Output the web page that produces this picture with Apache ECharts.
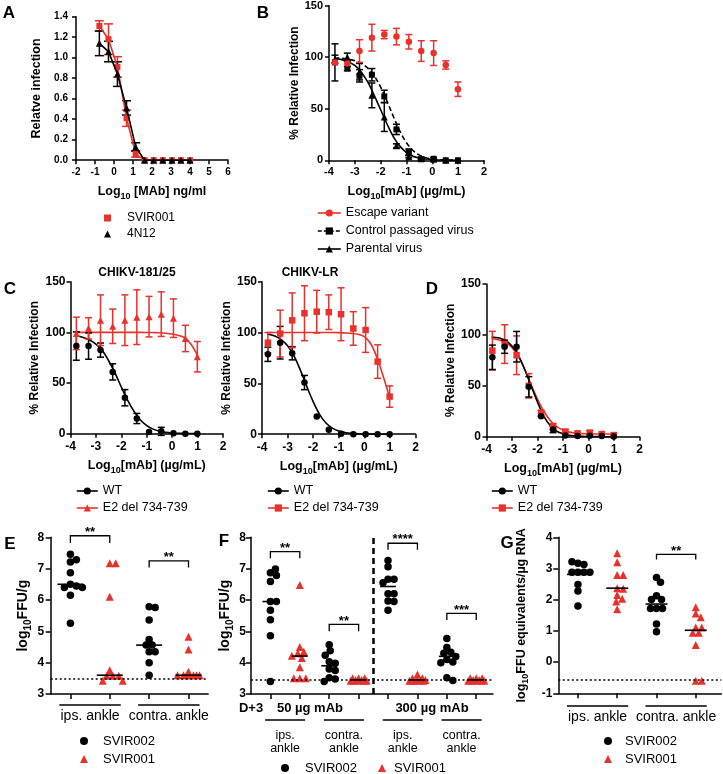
<!DOCTYPE html>
<html><head><meta charset="utf-8">
<script src="https://cdn.jsdelivr.net/npm/echarts@6/dist/echarts.min.js"></script>
<style>html,body{margin:0;padding:0;background:#fff}#c{width:723px;height:774px}</style>
</head><body><div id="c"></div><script>
// ================= DATA =================
// Panel A
const aLogDose = [-0.77,-0.29,0.18,0.66,1.14,1.61,2.09,2.57,3.05,3.52,4.00];
const aSVIR001 = [1.31,1.18,0.91,0.41,0.06,0,0,0,0,0,0];
const aSVIR001Sd = [0.05,0.15,0.10,0.08,0.03,0,0,0,0,0,0];
const a4N12 = [1.14,1.06,0.84,0.51,0.13,0,0,0,0,0,0];
const a4N12Sd = [0.12,0.10,0.12,0.07,0.04,0,0,0,0,0,0];
// Panels B, C, D: measured dose levels and fitted-curve sample points
const doseLog = [-3.77,-3.29,-2.82,-2.34,-1.86,-1.39,-0.91,-0.43,0.05,0.52,0.99];
const fitLog = [-3.8,-3.5,-3.25,-3,-2.75,-2.5,-2.25,-2,-1.75,-1.5,-1.25,-1,-0.75,-0.5,-0.25,0,0.25,0.5,0.75,1];
// Panel B
const bEscape = [95,94,106,119,122,120,115,106,104,92.5,69];
const bEscapeSd = [0,0,11,13,4,8,7,10,12,4,7];
const bControl = [95,89,82,83,62,30,8,1,1.5,0,0];
const bControlSd = [18,2,6,6,6,5,3,1,1,0,0];
const bParental = [98,100,86,63,42,14,3.5,2,1,0,0];
const bParentalSd = [4,4,8,12,14,2,1,1,0,0,0];
const bParentalFit = [98.8,97.7,95.5,92,85.5,76,63,49,35,22.5,13.5,7.5,4,2.2,1.2,0.6,0.3,0.15,0.1,0.05];
const bControlFit = [99.5,99,98,96.5,94,89.5,82,71,57,42,28,17,9.5,5,2.5,1.2,0.6,0.3,0.15,0.1];
// Panel C (CHIKV-181/25)
const c1WT = [86.5,86.5,82.5,61,35.5,15,1.6,2.3,0.5,0,0];
const c1WTSd = [14,13,7,8,8,5,0,4,0,0,0];
const c1E2 = [99,104,112,106,112,115,115.5,118,114,94,76];
const c1E2Sd = [16,10.5,25,17,25,27,20,22,19,13,15];
const c1WTFit = [97,95,92.5,88.5,82,72,60,46,33,22,13.5,8,4.5,2.5,1.3,0.7,0.4,0.2,0.1,0.05];
const c1E2Fit = [100,100,100,100,100,100,100,100,100,100,100,99.9,99.8,99.6,99.2,98.4,97,94.5,88,77];
// Panel C (CHIKV-LR)
const c2WT = [78.6,90,79.6,50.8,17.4,4.3,0.5,0,0,0,0];
const c2WTSd = [7,16,6.5,7,0,0,0,0,0,0,0];
const c2E2 = [90,99,112,119,120.5,120,118,104,102.5,71.4,37];
const c2E2Sd = [10,23,27,27,21,17,26,16.5,22,16.5,10.5];
const c2WTFit = [98.5,96.5,93,87,77,63,47,32,19.5,11,6,3.2,1.7,0.9,0.5,0.2,0.1,0,0,0];
const c2E2Fit = [100,100,100,100,100,100,100,100,100,100,100,99.9,99.6,99.2,98.3,96,89,75,56,35];
// Panel D
const dWT = [78,88.4,88.4,49,20,7,1.3,0.7,1,0.6,0.3];
const dWTSd = [12,6.5,15,10,0,3,0,0,0,0,0];
const dE2 = [84.5,91,80,50,23,10,5,3.3,4,2.6,1.6];
const dE2Sd = [19,19,19,12,3,3,2,0,2,0,0];
const dWTFit = [98,97,94.5,89,80,66,50,34,20,11,5.5,2.8,1.4,0.7,0.3,0.2,0.1,0,0,0];
const dE2Fit = [96.5,95,92.5,87.5,79,66,51,37,25,16,10,6.5,4.5,3.5,3,2.8,2.7,2.6,2.6,2.6];
// Panel E (log10 FFU/g)
const eIpsSVIR002 = [7.46,7.21,7.28,6.87,6.5,6.45,6.4,6.4,6.15,5.26];
const eIpsSVIR001 = [7.17,7.17,6.1,3.76,3.58,3.58,3.58,3.42,3.42];
const eContraSVIR002 = [5.78,5.76,5.36,4.74,4.56,4.56,4.35,4.35,4.0,3.6];
const eContraSVIR001 = [4.83,4.42,3.71,3.6,3.6,3.6,3.6,3.6,3.6,3.6];
const eMedians = [6.5,3.6,4.56,3.6];
const eLOD = 3.5;
const eGroupLabels = ['ips. ankle','contra. ankle'];
const eStars = ['**','**'];
const eBrackets = [[1,2,8.05,7.82],[3,4,7.25,7.04]];
// Panel F
const f50IpsSVIR002 = [6.87,6.99,6.78,6.59,5.95,5.95,5.67,5.37,4.86,3.4];
const f50IpsSVIR001 = [6.48,4.5,4.35,4.3,4.22,4.15,3.85,3.5,3.5,3.5];
const f50ContraSVIR002 = [4.57,4.38,4.24,4.03,3.98,3.8,3.75,3.52,3.48,3.4];
const f50ContraSVIR001 = [3.5,3.5,3.5,3.45,3.45,3.42,3.42,3.42,3.42,3.42];
const f300IpsSVIR002 = [7.26,7.06,6.66,6.66,6.55,6.2,6.2,5.97,5.95,5.67];
const f300IpsSVIR001 = [3.62,3.5,3.5,3.45,3.45,3.42,3.42,3.42,3.42,3.42];
const f300ContraSVIR002 = [4.77,4.48,4.33,4.3,4.2,4.1,4.02,4.0,3.52,3.43];
const f300ContraSVIR001 = [3.5,3.5,3.5,3.45,3.45,3.42,3.42,3.42,3.42,3.42];
const fMedians = [5.95,4.21,3.9,3.45,6.43,3.45,4.2,3.45];
const fLOD = 3.45;
const fGroupLabels = ['ips.\nankle','contra.\nankle','ips.\nankle','contra.\nankle'];
const fDoseLabels = ['D+3','50 µg mAb','300 µg mAb'];
const fStars = ['**','**','****','***'];
const fBrackets = [[1,2,7.54,7.33],[3,4,5.22,5.0],[5,6,7.81,7.6],[7,8,5.57,5.36]];
// Panel G (log10 FFU equivalents / µg RNA)
const gIpsSVIR002 = [3.17,3.13,3.22,2.88,2.88,2.88,2.88,2.49,2.28,1.80];
const gIpsSVIR001 = [3.49,3.2,2.79,2.79,2.37,2.35,2.15,2.03,1.94,1.69];
const gContraSVIR002 = [2.71,2.56,2.13,2.01,2.01,1.72,1.72,1.72,1.22,0.97];
const gContraSVIR001 = [1.76,1.56,1.44,1.11,1.11,0.94,0.94,0.55,-0.6,-0.6];
const gMedians = [2.81,2.37,1.86,1.02];
const gLOD = -0.58;
const gGroupLabels = ['ips. ankle','contra. ankle'];
const gStars = ['**'];
const gBrackets = [[3,4,3.45,3.29]];

// ================= STYLE / LAYOUT =================
const FONT = 'Arial, "Liberation Sans", Helvetica, sans-serif';
const RED = '#e8312a';
const BLK = '#000000';
const grids = [
  {left:76, top:16.7, width:152, height:143.5},      // A
  {left:329, top:5.7, width:155, height:154.6},      // B
  {left:70.5, top:281.7, width:152.5, height:152},   // C1
  {left:262, top:281.7, width:153.5, height:152.5},  // C2
  {left:486.5, top:284, width:153, height:152.7},    // D
  {left:50.7, top:537.3, width:157.5, height:156.7}, // E
  {left:251, top:537.3, width:242, height:156.7},    // F
  {left:558.3, top:537.3, width:163, height:156}     // G
];
const xr = [[-2,6],[-4,2],[-4,2],[-4,2],[-4,2],[0.5,4.5],[0.34,8.57],[0.5,4.65]];
const yr = [[0,1.4],[0,150],[0,150],[0,150],[0,150],[3,8],[3,8],[-1,4]];

function rich(fs) {
  return {
    b: {fontSize: fs, fontWeight: 'bold', fontFamily: FONT, color: BLK, lineHeight: fs + 6},
    s: {fontSize: Math.round(fs * 0.68), fontWeight: 'bold', fontFamily: FONT, color: BLK, lineHeight: Math.round(fs * 0.68), verticalAlign: 'bottom'}
  };
}
function axis(o) {
  const fs = o.fs;
  return {
    type: 'value', gridIndex: o.g, min: o.min, max: o.max, interval: o.interval,
    name: o.name, nameLocation: 'middle', nameGap: o.nameGap,
    nameTextStyle: {color: BLK, fontWeight: 'bold', fontSize: o.nfs, fontFamily: FONT, rich: rich(o.nfs)},
    axisLine: {show: true, onZero: false, lineStyle: {color: BLK, width: 1.5}},
    axisTick: Object.assign({show: true, length: o.tick || 4, lineStyle: {color: BLK, width: 1.5}}, o.tickExtra || {}),
    axisLabel: {show: o.labels !== false, color: BLK, fontWeight: 'bold', fontSize: fs, fontFamily: FONT, margin: o.margin, formatter: o.fmt},
    splitLine: {show: false}
  };
}
const xAxis = [
  axis({g:0, min:-2, max:6, interval:1, fs:10, margin:7, nfs:12.5, nameGap:22, name:'{b|Log}{s|10}{b| [MAb] ng/ml}'}),
  axis({g:1, min:-4, max:2, interval:1, fs:11, margin:6.5, nfs:12.5, nameGap:22, name:'{b|Log}{s|10}{b|[mAb] (µg/mL)}'}),
  axis({g:2, min:-4, max:2, interval:1, fs:12, margin:7, nfs:12.5, nameGap:23, name:'{b|Log}{s|10}{b|[mAb] (µg/mL)}'}),
  axis({g:3, min:-4, max:2, interval:1, fs:12, margin:7, nfs:12.5, nameGap:23, name:'{b|Log}{s|10}{b|[mAb] (µg/mL)}'}),
  axis({g:4, min:-4, max:2, interval:1, fs:12, margin:7, nfs:12.5, nameGap:23, name:'{b|Log}{s|10}{b|[mAb] (µg/mL)}'}),
  axis({g:5, min:0.5, max:4.5, interval:1, fs:12, margin:7, nfs:12, nameGap:20, labels:false, tick:5, tickExtra:{customValues:[1,2,3,4]}}),
  axis({g:6, min:0.34, max:8.57, interval:1, fs:12, margin:7, nfs:12, nameGap:20, labels:false, tick:5, tickExtra:{customValues:[1,2,3,4,5,6,7,8]}}),
  axis({g:7, min:0.5, max:4.65, interval:1, fs:12, margin:7, nfs:12, nameGap:20, labels:false, tick:5, tickExtra:{customValues:[1,2,3,4]}})
];
const yAxis = [
  axis({g:0, min:0, max:1.4, interval:0.2, fs:10, margin:8, nfs:12.5, nameGap:33, name:'Relatve infection', fmt: v => v.toFixed(1)}),
  axis({g:1, min:0, max:150, interval:50, fs:11, margin:6, nfs:12, nameGap:27, name:'% Relative Infection'}),
  axis({g:2, min:0, max:150, interval:50, fs:12, margin:5, nfs:12, nameGap:29.5, name:'% Relative Infection'}),
  axis({g:3, min:0, max:150, interval:50, fs:12, margin:5, nfs:12, nameGap:25, name:'% Relative Infection'}),
  axis({g:4, min:0, max:150, interval:50, fs:12, margin:5.5, nfs:12, nameGap:27.5, name:'% Relative Infection'}),
  axis({g:5, min:3, max:8, interval:1, fs:12, margin:6.5, nfs:14, nameGap:11, tick:5, name:'{b|log}{s|10}{b|FFU/g}'}),
  axis({g:6, min:3, max:8, interval:1, fs:12, margin:5, nfs:14, nameGap:10, tick:5, name:'{b|log}{s|10}{b|FFU/g}'}),
  axis({g:7, min:-1, max:4, interval:1, fs:12, margin:6, nfs:12.5, nameGap:28, tick:5, name:'{b|log}{s|10}{b|FFU equivalents/µg RNA}'})
];

// ================= SERIES HELPERS =================
const series = [];
const pairs = (xs, ys) => xs.map((x, i) => [x, ys[i]]);
function errBars(g, xs, ys, es, color, cap) {
  series.push({
    type: 'custom', xAxisIndex: g, yAxisIndex: g, z: 3, silent: true,
    data: xs.map((x, i) => [x, ys[i], es[i]]),
    renderItem(p, api) {
      const x = api.value(0), y = api.value(1), e = api.value(2);
      if (!e) return null;
      const t = api.coord([x, y + e]), b = api.coord([x, y - e]);
      const st = {stroke: color, lineWidth: 1.5};
      return {type: 'group', children: [
        {type: 'line', shape: {x1: t[0], y1: t[1], x2: b[0], y2: b[1]}, style: st},
        {type: 'line', shape: {x1: t[0] - cap, y1: t[1], x2: t[0] + cap, y2: t[1]}, style: st},
        {type: 'line', shape: {x1: b[0] - cap, y1: b[1], x2: b[0] + cap, y2: b[1]}, style: st}
      ]};
    }
  });
}
function fitCurve(g, ys, color, dashed) {
  series.push({
    type: 'line', xAxisIndex: g, yAxisIndex: g, z: 2, silent: true, smooth: 0.35,
    showSymbol: false, symbol: 'none', data: pairs(fitLog, ys),
    lineStyle: {color: color, width: 1.6, type: dashed ? [5, 3] : 'solid'}
  });
}
function points(g, name, xs, ys, color, symbol, size, dashed) {
  series.push({
    type: 'line', name: name, xAxisIndex: g, yAxisIndex: g, z: 4,
    data: pairs(xs, ys), symbol: symbol, symbolSize: size, showSymbol: true,
    itemStyle: {color: color, opacity: 1}, lineStyle: {color: color, opacity: 0, width: 1.5, type: dashed ? [4, 2] : 'solid'}
  });
}
function swarm(vals, center, pxX, pxY, D, maxOff) {
  const placed = [], out = [];
  vals.forEach(v => {
    let best = 0, bestD = -1;
    for (let k = 0; k <= maxOff * 2; k++) {
      const c = (k % 2 ? 1 : -1) * Math.ceil(k / 2);
      let md = Infinity;
      placed.forEach(p => { const d = Math.hypot(p[0] - c, (p[1] - v) * pxY); if (d < md) md = d; });
      if (md >= D) { best = c; bestD = md; break; }
      if (md > bestD) { bestD = md; best = c; }
    }
    placed.push([best, v]);
    out.push([center + best / pxX, v]);
  });
  return out;
}
function pxPer(g) {
  return [grids[g].width / (xr[g][1] - xr[g][0]), grids[g].height / (yr[g][1] - yr[g][0])];
}
function dotPlot(g, name, groups, cats, color, symbol, size, maxOff, lod, extraMark) {
  const [px, py] = pxPer(g);
  let data = [];
  groups.forEach((vals, i) => { data = data.concat(swarm(vals, cats[i], px, py, 6, maxOff)); });
  const s = {
    type: 'scatter', name: name, xAxisIndex: g, yAxisIndex: g, z: 4, data: data,
    symbol: symbol, symbolSize: size, itemStyle: {color: color, opacity: 1}
  };
  if (lod !== undefined) {
    const md = [{yAxis: lod, lineStyle: {type: [2, 2.5], width: 1.5, color: BLK}}];
    if (extraMark) md.push(extraMark);
    s.markLine = {silent: true, symbol: 'none', label: {show: false}, animation: false, data: md, lineStyle: {color: BLK}};
  }
  series.push(s);
}
function medians(g, meds, hw) {
  series.push({
    type: 'custom', xAxisIndex: g, yAxisIndex: g, z: 6, silent: true,
    data: meds.map((m, i) => [i + 1, m]),
    renderItem(p, api) {
      const a = api.coord([api.value(0) - hw, api.value(1)]), b = api.coord([api.value(0) + hw, api.value(1)]);
      return {type: 'line', shape: {x1: a[0], y1: a[1], x2: b[0], y2: b[1]}, style: {stroke: BLK, lineWidth: 1.6}};
    }
  });
}
function brackets(g, list, stars) {
  series.push({
    type: 'custom', xAxisIndex: g, yAxisIndex: g, z: 6, silent: true, data: list,
    renderItem(p, api) {
      const x1 = api.value(0), x2 = api.value(1), yt = api.value(2), yl = api.value(3);
      const a = api.coord([x1, yl]), b = api.coord([x1, yt]), c = api.coord([x2, yt]), d = api.coord([x2, yl]);
      return {type: 'group', children: [
        {type: 'polyline', shape: {points: [a, b, c, d]}, style: {stroke: BLK, lineWidth: 1.3, fill: null}},
        {type: 'text', x: (b[0] + c[0]) / 2, y: b[1] + 3, style: {text: stars[p.dataIndex], fontSize: 13, fontWeight: 'bold', fill: BLK, align: 'center', verticalAlign: 'bottom', fontFamily: FONT}}
      ]};
    }
  });
}
function groupLabels(g, spans, labels, lineOff, textOff, fs, lh) {
  series.push({
    type: 'custom', xAxisIndex: g, yAxisIndex: g, z: 6, silent: true, data: spans,
    renderItem(p, api) {
      const c = api.value(0), h = api.value(1);
      const a = api.coord([c - h, yr[g][0]]), b = api.coord([c + h, yr[g][0]]);
      return {type: 'group', children: [
        {type: 'line', shape: {x1: a[0], y1: a[1] + lineOff, x2: b[0], y2: b[1] + lineOff}, style: {stroke: BLK, lineWidth: 1.3}},
        {type: 'text', x: (a[0] + b[0]) / 2, y: a[1] + textOff, style: {text: labels[p.dataIndex], fontSize: fs, lineHeight: lh, fill: BLK, align: 'center', verticalAlign: 'middle', fontFamily: FONT}}
      ]};
    }
  });
}

// ================= PANEL A =================
series.push({type:'line', name:'SVIR001#a', xAxisIndex:0, yAxisIndex:0, z:4, data: pairs(aLogDose, aSVIR001),
  symbol:'rect', symbolSize:6, itemStyle:{color:RED, opacity:1}, lineStyle:{color:RED, width:1.6}});
errBars(0, aLogDose, aSVIR001, aSVIR001Sd, RED, 4.5);
series.push({type:'line', name:'4N12#a', xAxisIndex:0, yAxisIndex:0, z:5, data: pairs(aLogDose, a4N12),
  symbol:'triangle', symbolSize:7, itemStyle:{color:BLK, opacity:1}, lineStyle:{color:BLK, width:1.6}});
errBars(0, aLogDose, a4N12, a4N12Sd, BLK, 4.5);

// ================= PANEL B =================
fitCurve(1, bControlFit, BLK, true);
fitCurve(1, bParentalFit, BLK, false);
errBars(1, doseLog, bControl, bControlSd, BLK, 3.5);
errBars(1, doseLog, bParental, bParentalSd, BLK, 3.5);
points(1, 'Control passaged virus#b', doseLog, bControl, BLK, 'rect', 6, true);
points(1, 'Parental virus#b', doseLog, bParental, BLK, 'triangle', 7, false);
errBars(1, doseLog, bEscape, bEscapeSd, RED, 3.5);
points(1, 'Escape variant#b', doseLog, bEscape, RED, 'circle', 6.5, false);

// ================= PANEL C =================
fitCurve(2, c1WTFit, BLK); fitCurve(2, c1E2Fit, RED);
errBars(2, doseLog, c1WT, c1WTSd, BLK, 3.5);
errBars(2, doseLog, c1E2, c1E2Sd, RED, 3.5);
points(2, 'WT#c1', doseLog, c1WT, BLK, 'circle', 6.5);
points(2, 'E2 del 734-739#c1', doseLog, c1E2, RED, 'triangle', 7);
fitCurve(3, c2WTFit, BLK); fitCurve(3, c2E2Fit, RED);
errBars(3, doseLog, c2WT, c2WTSd, BLK, 3.5);
errBars(3, doseLog, c2E2, c2E2Sd, RED, 3.5);
points(3, 'WT#c2', doseLog, c2WT, BLK, 'circle', 6.5);
points(3, 'E2 del 734-739#c2', doseLog, c2E2, RED, 'rect', 6.5);

// ================= PANEL D =================
fitCurve(4, dE2Fit, RED); fitCurve(4, dWTFit, BLK);
errBars(4, doseLog, dE2, dE2Sd, RED, 3.5);
errBars(4, doseLog, dWT, dWTSd, BLK, 3.5);
points(4, 'E2 del 734-739#d', doseLog, dE2, RED, 'rect', 6.5);
points(4, 'WT#d', doseLog, dWT, BLK, 'circle', 6.5);

// ================= PANEL E =================
dotPlot(5, 'SVIR002#e', [eIpsSVIR002, eContraSVIR002], [1, 3], BLK, 'circle', 7.5, 13, eLOD);
dotPlot(5, 'SVIR001#e', [eIpsSVIR001, eContraSVIR001], [2, 4], RED, 'triangle', 8, 13);
medians(5, eMedians, 0.33);
brackets(5, eBrackets, eStars);
groupLabels(5, [[1.5, 0.78], [3.5, 0.78]], eGroupLabels, 11, 22, 14, 16);

// ================= PANEL F =================
dotPlot(6, 'SVIR002#f', [f50IpsSVIR002, f50ContraSVIR002, f300IpsSVIR002, f300ContraSVIR002], [1, 3, 5, 7], BLK, 'circle', 7.5, 10, fLOD,
  {xAxis: 4.5, lineStyle: {type: [6, 4], width: 2.5, color: BLK}});
dotPlot(6, 'SVIR001#f', [f50IpsSVIR001, f50ContraSVIR001, f300IpsSVIR001, f300ContraSVIR001], [2, 4, 6, 8], RED, 'triangle', 8, 8);
medians(6, fMedians, 0.27);
brackets(6, fBrackets, fStars);
groupLabels(6, [[1.5, 0.68], [3.5, 0.68], [5.5, 0.68], [7.5, 0.68]], fGroupLabels, 26, 48, 12.5, 12.6);

// ================= PANEL G =================
dotPlot(7, 'SVIR002#g', [gIpsSVIR002, gContraSVIR002], [1, 3], BLK, 'circle', 7.5, 13, gLOD);
dotPlot(7, 'SVIR001#g', [gIpsSVIR001, gContraSVIR001], [2, 4], RED, 'triangle', 8, 13);
medians(7, gMedians, 0.28);
brackets(7, gBrackets, gStars);
groupLabels(7, [[1.5, 0.78], [3.5, 0.78]], gGroupLabels, 12.7, 24, 14, 16);

// ================= LEGENDS =================
function lg(o) {
  return Object.assign({
    orient: 'vertical', padding: 0, itemWidth: 22, itemHeight: 9, itemGap: 3, selectedMode: false,
    textStyle: {color: BLK, fontSize: 12.5, fontFamily: FONT, lineHeight: 14},
    formatter: n => n.split('#')[0], lineStyle: {opacity: 1, width: 1.6}, itemStyle: {opacity: 1}
  }, o);
}
function symTS(fs, pad) { return {color: BLK, fontSize: fs, fontFamily: FONT, lineHeight: 14, padding: [0, 0, 0, pad]}; }
const legend = [
  lg({left: 104, top: 211, itemGap: 2, itemWidth: 7, itemHeight: 7, textStyle: symTS(12, 11),
      data: [{name: 'SVIR001#a', icon: 'rect'}, {name: '4N12#a', icon: 'triangle'}]}),
  lg({left: 317, top: 206, itemWidth: 23, itemGap: 4, data: ['Escape variant#b', 'Control passaged virus#b', 'Parental virus#b']}),
  lg({left: 76, top: 484, itemWidth: 21, data: ['WT#c1', 'E2 del 734-739#c1']}),
  lg({left: 267, top: 484, itemWidth: 21, data: ['WT#c2', 'E2 del 734-739#c2']}),
  lg({left: 491, top: 484, itemWidth: 21, data: ['WT#d', 'E2 del 734-739#d']}),
  lg({left: 80, top: 734, itemWidth: 8, itemHeight: 8, itemGap: 4, textStyle: symTS(13, 10),
      data: [{name: 'SVIR002#e', icon: 'circle'}, {name: 'SVIR001#e', icon: 'triangle'}]}),
  lg({left: 281, top: 761, itemWidth: 8, itemHeight: 8, textStyle: symTS(13, 11),
      data: [{name: 'SVIR002#f', icon: 'circle'}]}),
  lg({left: 378, top: 761, itemWidth: 8, itemHeight: 8, textStyle: symTS(13, 3),
      data: [{name: 'SVIR001#f', icon: 'triangle'}]}),
  lg({left: 604, top: 734, itemWidth: 8, itemHeight: 8, itemGap: 4, textStyle: symTS(13, 8),
      data: [{name: 'SVIR002#g', icon: 'circle'}, {name: 'SVIR001#g', icon: 'triangle'}]})
];

// ================= TEXT (panel letters, titles, dose headers) =================
function txt(x, y, s, fs, bold) {
  return {type: 'text', x: x, y: y, style: {text: s, fontSize: fs, fontWeight: bold ? 'bold' : 'normal', fill: BLK, fontFamily: FONT, align: 'center', verticalAlign: 'middle'}};
}
const graphic = [
  txt(9, 13, 'A', 17, true), txt(263, 13, 'B', 17, true), txt(10, 289, 'C', 17, true),
  txt(432, 289, 'D', 17, true), txt(10, 544, 'E', 17, true), txt(224, 541, 'F', 17, true), txt(507, 543, 'G', 17, true),
  txt(137, 273, 'CHIKV-181/25', 12, true), txt(310, 273, 'CHIKV-LR', 12, true),
  txt(251, 708, fDoseLabels[0], 13, true), txt(310, 708, fDoseLabels[1], 13, true), txt(432, 708, fDoseLabels[2], 13, true)
];

const chart = echarts.init(document.getElementById('c'), null, {renderer: 'canvas'});
chart.setOption({
  animation: false, backgroundColor: '#ffffff', textStyle: {fontFamily: FONT},
  grid: grids, xAxis: xAxis, yAxis: yAxis, series: series, legend: legend, graphic: graphic
});
</script></body></html>
